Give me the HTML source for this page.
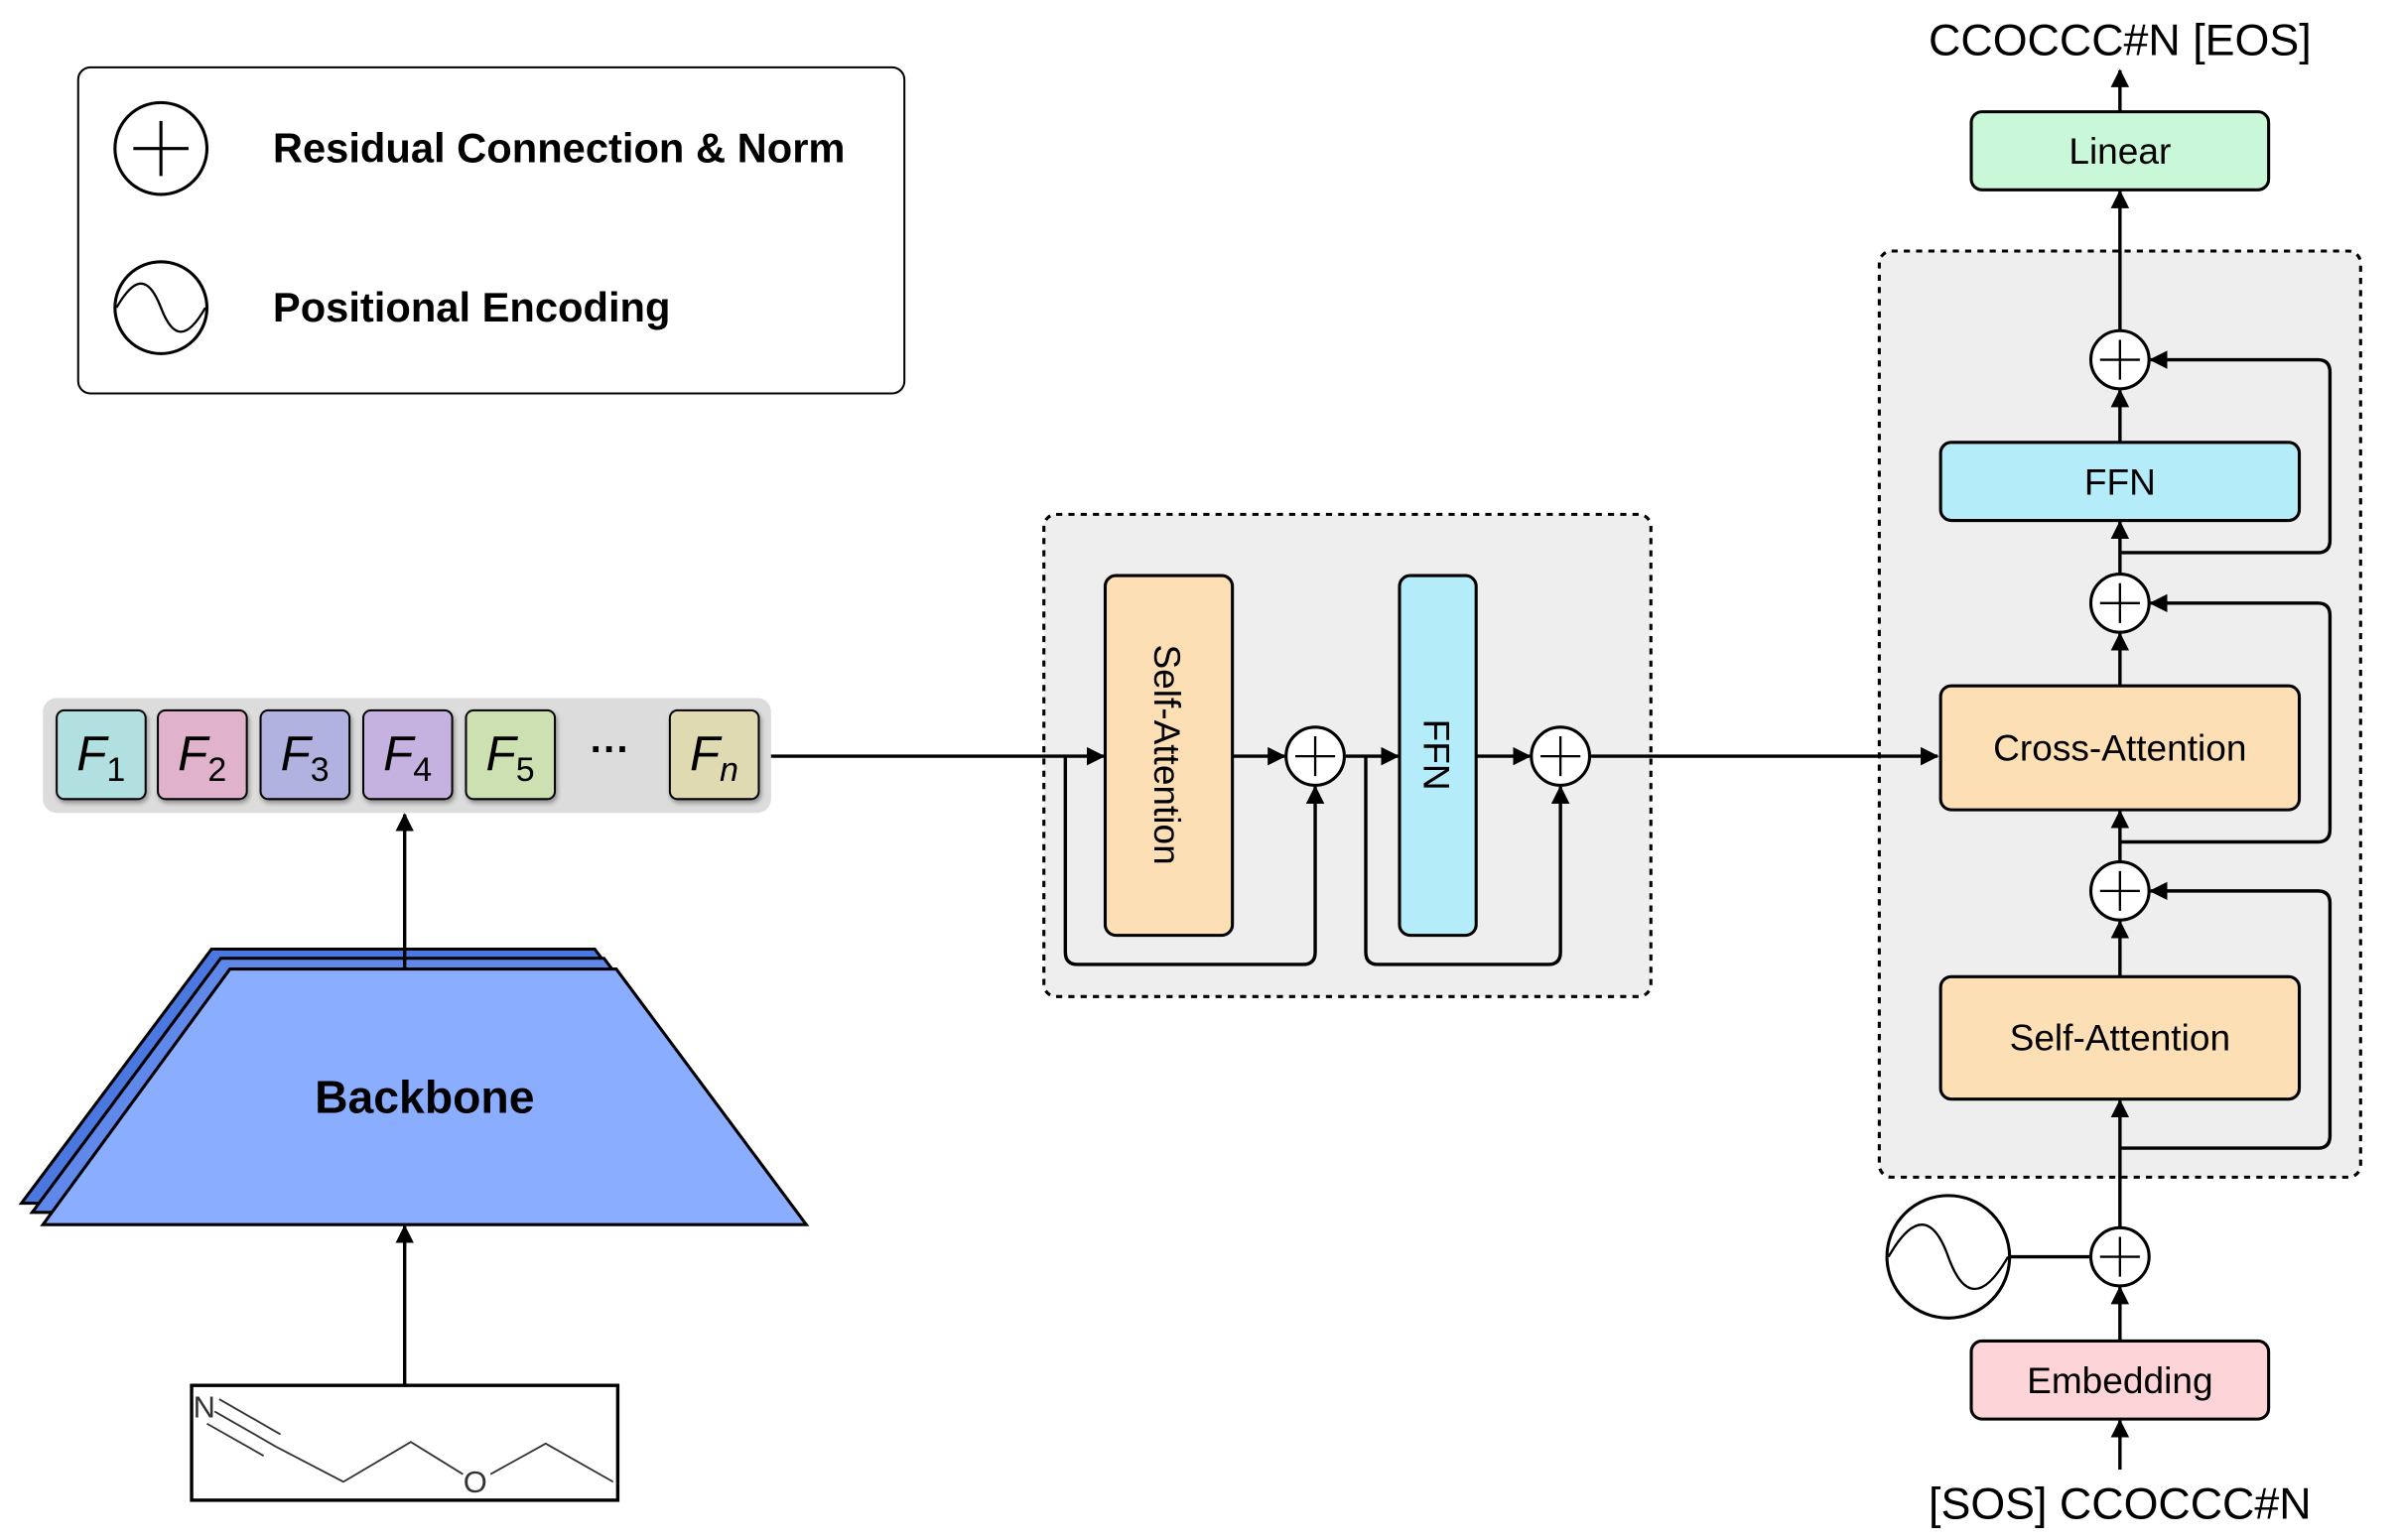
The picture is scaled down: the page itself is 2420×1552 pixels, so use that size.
<!DOCTYPE html>
<html><head><meta charset="utf-8"><style>
html,body{margin:0;padding:0;background:#fff;}
svg{display:block;}
text{font-family:"Liberation Sans",sans-serif;}
</style></head><body>
<svg width="2420" height="1552" viewBox="0 0 1567 1006" preserveAspectRatio="none" xmlns="http://www.w3.org/2000/svg">
<defs>
<marker id="a" markerWidth="12" markerHeight="12" refX="11" refY="6" orient="auto" markerUnits="userSpaceOnUse"><path d="M0,0 L12,6 L0,12 z" fill="#000"/></marker>
<filter id="sh" x="-10%" y="-10%" width="130%" height="130%"><feDropShadow dx="1" dy="2" stdDeviation="1.5" flood-opacity="0.35"/></filter>
</defs>
<!-- legend -->
<rect x="51" y="44" width="539" height="213" rx="8" fill="#fff" stroke="#000" stroke-width="1.3"/>
<circle cx="105" cy="97" r="30" fill="#fff" stroke="#000" stroke-width="2"/>
<path d="M105,79 V115 M87,97 H123" stroke="#000" stroke-width="2"/>
<text x="178" y="106" font-size="27" font-weight="bold">Residual Connection &amp; Norm</text>
<circle cx="105" cy="201" r="30" fill="#fff" stroke="#000" stroke-width="2"/>
<path d="M76,201 C88,180 97,180 105,201 C113,222 122,222 134,201" fill="none" stroke="#000" stroke-width="1.5"/>
<text x="178" y="210" font-size="27" font-weight="bold">Positional Encoding</text>

<!-- feature strip -->
<rect x="28" y="456" width="475" height="75" rx="9" fill="#dcdcdc"/>
<g stroke="#000" stroke-width="1.3" filter="url(#sh)">
<rect x="37" y="464" width="58" height="58" rx="5" fill="#b2dfdf"/>
<rect x="103" y="464" width="58" height="58" rx="5" fill="#e0b2cc"/>
<rect x="170" y="464" width="58" height="58" rx="5" fill="#b2b2e0"/>
<rect x="237" y="464" width="58" height="58" rx="5" fill="#c6b2e0"/>
<rect x="304" y="464" width="58" height="58" rx="5" fill="#cce0b2"/>
<rect x="437" y="464" width="58" height="58" rx="5" fill="#e0dab2"/>
</g>
<g font-family="Liberation Serif,serif" font-size="32">
<text x="50" y="503" font-style="italic">F<tspan font-size="22" font-style="normal" dy="7">1</tspan></text>
<text x="116" y="503" font-style="italic">F<tspan font-size="22" font-style="normal" dy="7">2</tspan></text>
<text x="183" y="503" font-style="italic">F<tspan font-size="22" font-style="normal" dy="7">3</tspan></text>
<text x="250" y="503" font-style="italic">F<tspan font-size="22" font-style="normal" dy="7">4</tspan></text>
<text x="317" y="503" font-style="italic">F<tspan font-size="22" font-style="normal" dy="7">5</tspan></text>
<text x="450" y="503" font-style="italic">F<tspan font-size="22" dy="7">n</tspan></text>
</g>
<text x="398" y="498" font-size="26" font-weight="bold" text-anchor="middle">···</text>

<!-- backbone -->
<polygon points="138,620 388,620 512,786 14,786" fill="#4a77e0" stroke="#000" stroke-width="2"/>
<polygon points="144,626 394,626 518,792 21,792" fill="#5f88ea" stroke="#000" stroke-width="2"/>
<polygon points="150,633 402,633 526,800 28,800" fill="#8aadff" stroke="#000" stroke-width="2"/>
<text x="277" y="727" font-size="30" font-weight="bold" text-anchor="middle">Backbone</text>
<line x1="264" y1="632" x2="264" y2="532" stroke="#000" stroke-width="2.2" marker-end="url(#a)"/>
<line x1="264" y1="905" x2="264" y2="801" stroke="#000" stroke-width="2.2" marker-end="url(#a)"/>

<!-- molecule -->
<rect x="125" y="905" width="278" height="75" fill="#fff" stroke="#000" stroke-width="2.2"/>
<text x="126" y="926" font-size="20" fill="#333">N</text>
<g stroke="#333" stroke-width="1.2" fill="none">
<path d="M140,922 L180,945 M143,914 L183,937 M135,930 L172,951"/>
<path d="M180,945 L224,968 L268,942 L302,963 M320,963 L356,943 L400,968"/>
</g>
<text x="310" y="975" font-size="20" fill="#333" text-anchor="middle">O</text>

<!-- encoder -->
<rect x="681" y="336" width="396" height="315" rx="8" fill="#eeeeee" stroke="#000" stroke-width="2" stroke-dasharray="4,4"/>
<!-- decoder box -->
<rect x="1226" y="164" width="314" height="605" rx="8" fill="#eeeeee" stroke="#000" stroke-width="2" stroke-dasharray="4,4"/>

<rect x="721" y="376" width="83" height="235" rx="7" fill="#fddfb5" stroke="#000" stroke-width="2"/>
<text transform="translate(753,493) rotate(90)" font-size="24" text-anchor="middle">Self-Attention</text>
<rect x="913" y="376" width="50" height="235" rx="7" fill="#b4ecfa" stroke="#000" stroke-width="2"/>
<text transform="translate(929,493) rotate(90)" font-size="24" text-anchor="middle">FFN</text>
<g stroke="#000" stroke-width="2.2" fill="none">
<line x1="503" y1="494" x2="720" y2="494" marker-end="url(#a)"/>
<line x1="804" y1="494" x2="838" y2="494" marker-end="url(#a)"/>
<line x1="878" y1="494" x2="912" y2="494" marker-end="url(#a)"/>
<line x1="963" y1="494" x2="998" y2="494" marker-end="url(#a)"/>
<line x1="1038" y1="494" x2="1264" y2="494" marker-end="url(#a)"/>
<path d="M695,494 V622 Q695,630 703,630 H850 Q858,630 858,622 V514" marker-end="url(#a)"/>
<path d="M891,494 V622 Q891,630 899,630 H1010 Q1018,630 1018,622 V514" marker-end="url(#a)"/>
</g>
<g stroke="#000" stroke-width="2" fill="#fff">
<circle cx="858" cy="494" r="19"/><circle cx="1018" cy="494" r="19"/>
</g>
<path d="M858,481 V507 M845,494 H871 M1018,481 V507 M1005,494 H1031" stroke="#000" stroke-width="1.5"/>

<!-- decoder -->
<text x="1383" y="36" font-size="29" text-anchor="middle">CCOCCC#N [EOS]</text>
<rect x="1286" y="73" width="194" height="51" rx="7" fill="#c9f8d9" stroke="#000" stroke-width="2"/>
<text x="1383" y="107" font-size="24" text-anchor="middle">Linear</text>
<rect x="1266" y="289" width="234" height="51" rx="7" fill="#b4ecfa" stroke="#000" stroke-width="2"/>
<text x="1383" y="323" font-size="24" text-anchor="middle">FFN</text>
<rect x="1266" y="448" width="234" height="81" rx="7" fill="#fddfb5" stroke="#000" stroke-width="2"/>
<text x="1383" y="497" font-size="24" text-anchor="middle">Cross-Attention</text>
<rect x="1266" y="638" width="234" height="80" rx="7" fill="#fddfb5" stroke="#000" stroke-width="2"/>
<text x="1383" y="686" font-size="24" text-anchor="middle">Self-Attention</text>
<rect x="1286" y="876" width="194" height="51" rx="7" fill="#fdd5d8" stroke="#000" stroke-width="2"/>
<text x="1383" y="910" font-size="24" text-anchor="middle">Embedding</text>
<text x="1383" y="992" font-size="29" text-anchor="middle">[SOS] CCOCCC#N</text>
<g stroke="#000" stroke-width="2.2" fill="none">
<line x1="1383" y1="73" x2="1383" y2="46" marker-end="url(#a)"/>
<line x1="1383" y1="216" x2="1383" y2="125" marker-end="url(#a)"/>
<line x1="1383" y1="289" x2="1383" y2="255" marker-end="url(#a)"/>
<line x1="1383" y1="375" x2="1383" y2="341" marker-end="url(#a)"/>
<line x1="1383" y1="448" x2="1383" y2="414" marker-end="url(#a)"/>
<line x1="1383" y1="563" x2="1383" y2="530" marker-end="url(#a)"/>
<line x1="1383" y1="638" x2="1383" y2="602" marker-end="url(#a)"/>
<line x1="1383" y1="802" x2="1383" y2="719" marker-end="url(#a)"/>
<line x1="1383" y1="876" x2="1383" y2="841" marker-end="url(#a)"/>
<line x1="1383" y1="960" x2="1383" y2="928" marker-end="url(#a)"/>
<line x1="1311" y1="821" x2="1364" y2="821"/>
<path d="M1383,361 H1512 Q1520,361 1520,353 V243 Q1520,235 1512,235 H1403" marker-end="url(#a)"/>
<path d="M1383,550 H1512 Q1520,550 1520,542 V402 Q1520,394 1512,394 H1403" marker-end="url(#a)"/>
<path d="M1383,750 H1512 Q1520,750 1520,742 V590 Q1520,582 1512,582 H1403" marker-end="url(#a)"/>
</g>
<g stroke="#000" stroke-width="2" fill="#fff">
<circle cx="1383" cy="235" r="19"/><circle cx="1383" cy="394" r="19"/>
<circle cx="1383" cy="582" r="19"/><circle cx="1383" cy="821" r="19"/>
<circle cx="1271" cy="821" r="40"/>
</g>
<path d="M1383,222 V248 M1370,235 H1396 M1383,381 V407 M1370,394 H1396 M1383,569 V595 M1370,582 H1396 M1383,808 V834 M1370,821 H1396" stroke="#000" stroke-width="1.5"/>
<path d="M1232,821 C1248,793 1261,793 1271,821 C1281,849 1294,849 1310,821" fill="none" stroke="#000" stroke-width="1.5"/>
</svg>
</body></html>
